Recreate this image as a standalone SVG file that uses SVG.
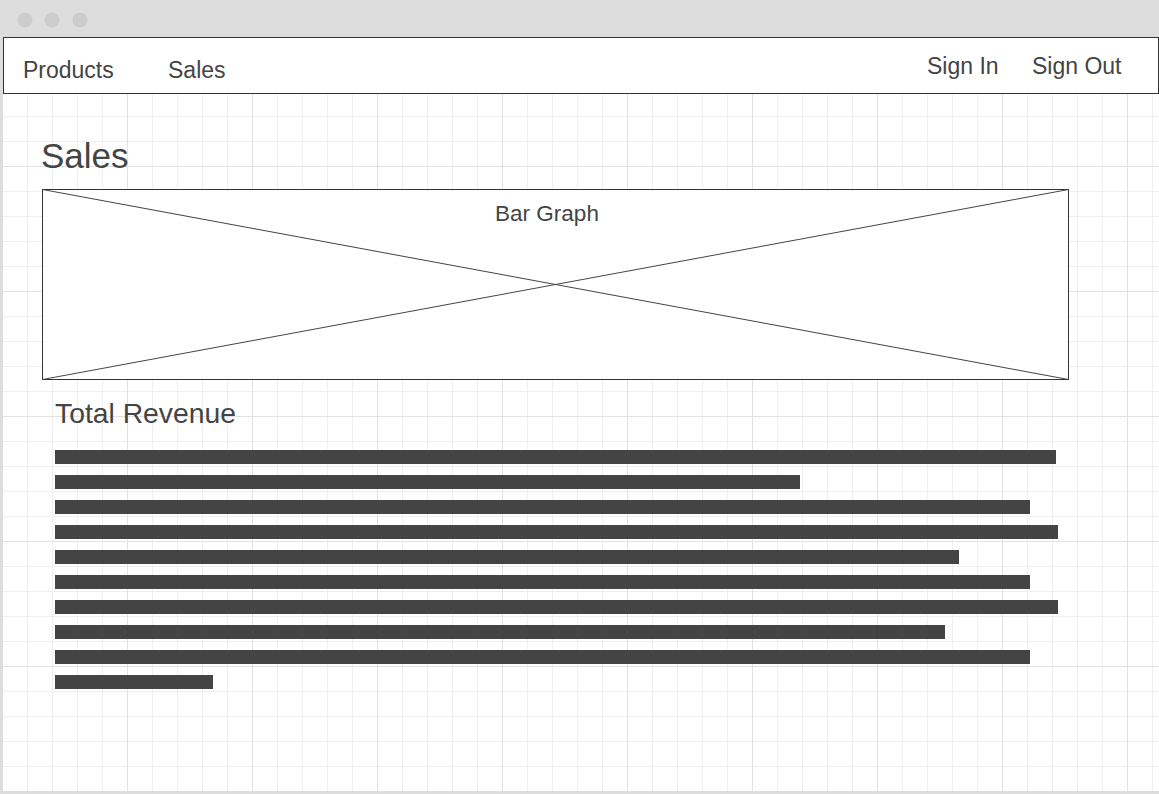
<svg xmlns="http://www.w3.org/2000/svg" width="1159" height="794" viewBox="0 0 1159 794">
<defs>
<style>
.t{font-family:"Liberation Sans",Arial,sans-serif;fill:#444;}
.bar{fill:#444;}
.ln{stroke:#444;stroke-width:1;fill:none;}
</style>
<pattern id="minor" x="2" y="16" width="25" height="25" patternUnits="userSpaceOnUse">
<path d="M0.5 0V25M0 0.5H25" stroke="#efefef" stroke-width="1" fill="none"/>
</pattern>
<pattern id="major" x="2" y="41" width="125" height="125" patternUnits="userSpaceOnUse">
<path d="M0.5 0V125M0 0.5H125" stroke="#e2e2e2" stroke-width="1" fill="none"/>
</pattern>
</defs>
<g id="window">
<rect x="0" y="0" width="1159" height="794" fill="#dddddd"/>
<rect x="3" y="94" width="1156" height="697" fill="#ffffff"/>
<rect x="3" y="94" width="1156" height="697" fill="url(#minor)"/>
<rect x="3" y="94" width="1156" height="697" fill="url(#major)"/>
<circle cx="25" cy="20" r="7.5" fill="#cccccc"/>
<circle cx="52" cy="20" r="7.5" fill="#cccccc"/>
<circle cx="80" cy="20" r="7.5" fill="#cccccc"/>
</g>
<g id="navbar">
<rect x="3.5" y="37.5" width="1155" height="56" fill="#ffffff" stroke="#333" stroke-width="1"/>
<text class="t" x="23" y="78" font-size="23">Products</text>
<text class="t" x="168" y="78" font-size="23">Sales</text>
<text class="t" x="927" y="74" font-size="23">Sign In</text>
<text class="t" x="1032" y="74" font-size="23">Sign Out</text>
</g>
<g id="title">
<text class="t" x="41" y="168" font-size="35">Sales</text>
</g>
<g id="bargraph">
<rect x="42.5" y="189.5" width="1026" height="190" fill="#ffffff" stroke="#333" stroke-width="1"/>
<path class="ln" d="M42.5 189.5L1068.5 379.5M42.5 379.5L1068.5 189.5"/>
<text class="t" x="547" y="221" font-size="22.5" text-anchor="middle">Bar Graph</text>
</g>
<g id="revenue">
<text class="t" x="55" y="423" font-size="28.3">Total Revenue</text>
<rect class="bar" x="55" y="450" width="1001" height="14"/>
<rect class="bar" x="55" y="475" width="745" height="14"/>
<rect class="bar" x="55" y="500" width="975" height="14"/>
<rect class="bar" x="55" y="525" width="1003" height="14"/>
<rect class="bar" x="55" y="550" width="904" height="14"/>
<rect class="bar" x="55" y="575" width="975" height="14"/>
<rect class="bar" x="55" y="600" width="1003" height="14"/>
<rect class="bar" x="55" y="625" width="890" height="14"/>
<rect class="bar" x="55" y="650" width="975" height="14"/>
<rect class="bar" x="55" y="675" width="158" height="14"/>
</g>
<g id="connectors"></g>
</svg>
